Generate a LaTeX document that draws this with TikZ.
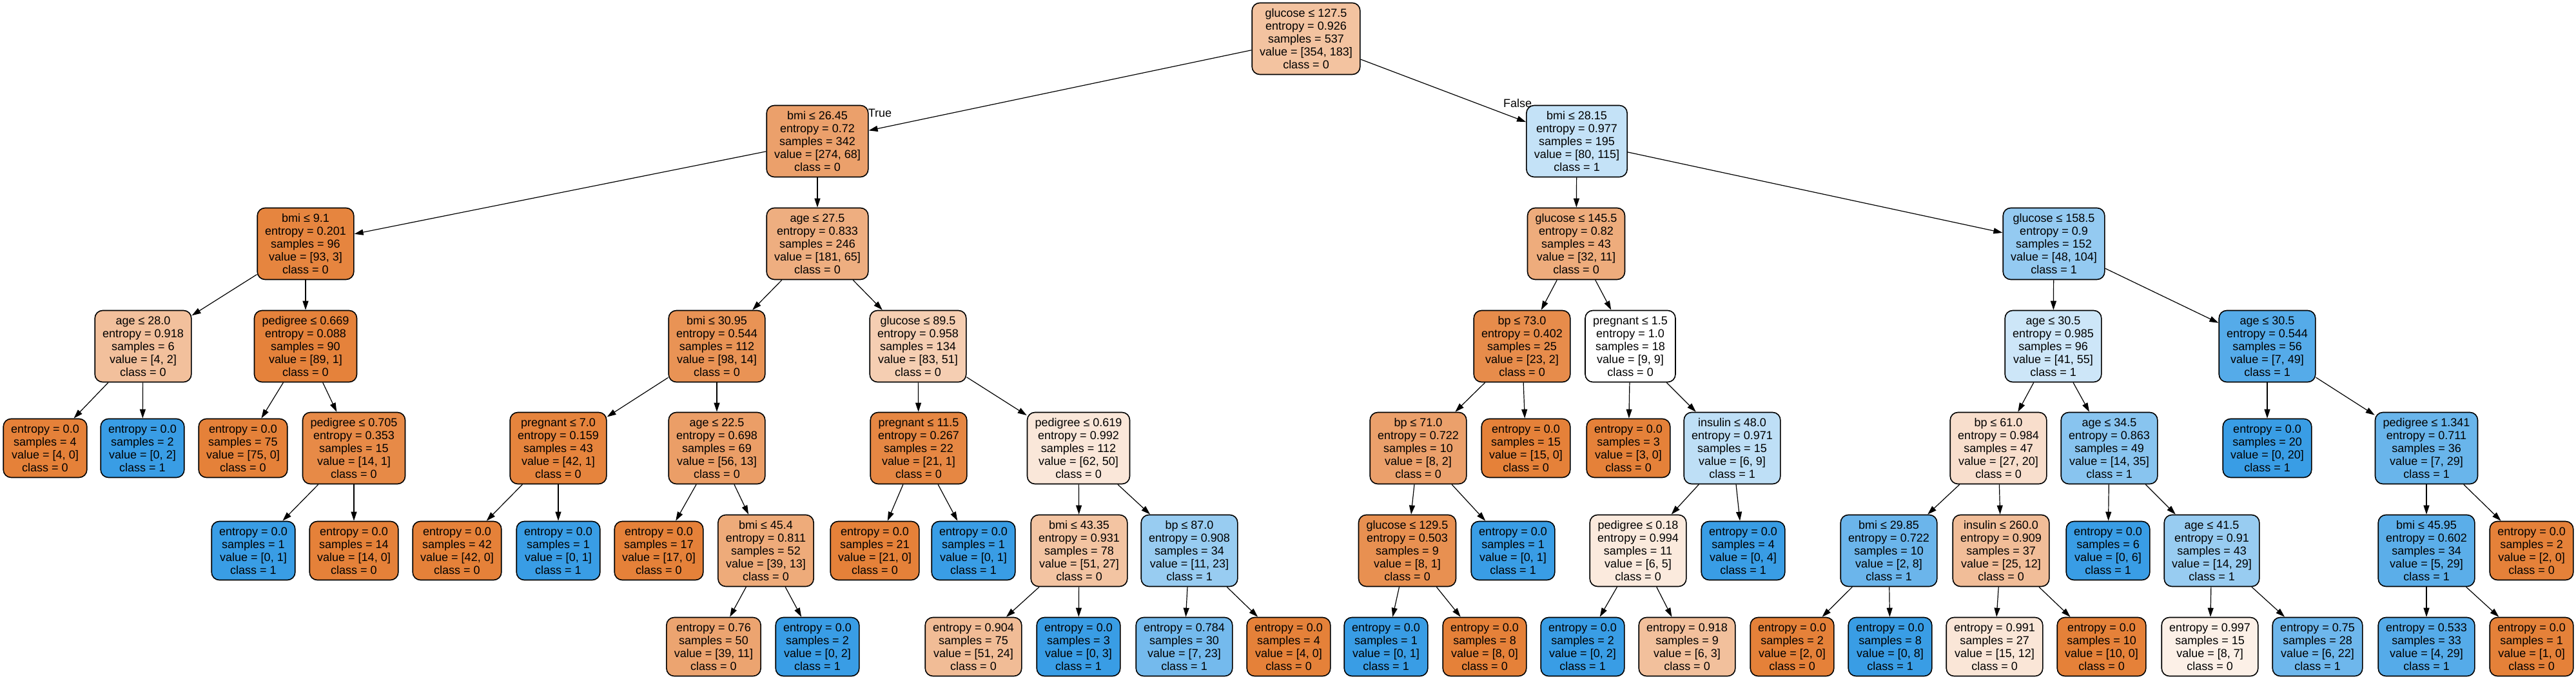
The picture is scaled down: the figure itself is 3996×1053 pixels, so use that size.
\documentclass[tikz,border=0pt]{standalone}
\usepackage{fontspec}
\setmainfont{Liberation Sans}
\usetikzlibrary{arrows.meta}
\definecolor{cz}{RGB}{229,129,57}
\definecolor{co}{RGB}{57,157,229}
\tikzset{
  tnode/.style={draw=black, line width=0.8pt, rounded corners=6pt, align=center,
    inner xsep=6pt, inner ysep=0pt, font=\fontsize{9pt}{10pt}\selectfont},
  inode/.style={tnode, minimum height=55.5pt},
  leaf/.style={tnode, minimum height=45.5pt},
  edge/.style={draw=black, line width=0.6pt, -{Triangle[length=7pt,width=4.5pt]}},
  elab/.style={font=\fontsize{9pt}{10pt}\selectfont, inner sep=0pt}
}
\begin{document}
\begin{tikzpicture}[x=0.5pt,y=-0.5pt]
\useasboundingbox (0,0) rectangle (3996,1053);
% rank 0
\node[inode, fill=cz!48] (n0) at (2026,60) {glucose ≤ 127.5\\entropy = 0.926\\samples = 537\\value = [354, 183]\\class = 0};
% rank 1
\node[inode, fill=cz!75] (n1) at (1268,219) {bmi ≤ 26.45\\entropy = 0.72\\samples = 342\\value = [274, 68]\\class = 0};
\node[inode, fill=co!30] (n2) at (2446,219) {bmi ≤ 28.15\\entropy = 0.977\\samples = 195\\value = [80, 115]\\class = 1};
% rank 2
\node[inode, fill=cz!97] (n3) at (474,378) {bmi ≤ 9.1\\entropy = 0.201\\samples = 96\\value = [93, 3]\\class = 0};
\node[inode, fill=cz!64] (n4) at (1268,378) {age ≤ 27.5\\entropy = 0.833\\samples = 246\\value = [181, 65]\\class = 0};
\node[inode, fill=cz!66] (n5) at (2445,378) {glucose ≤ 145.5\\entropy = 0.82\\samples = 43\\value = [32, 11]\\class = 0};
\node[inode, fill=co!54] (n6) at (3186,378) {glucose ≤ 158.5\\entropy = 0.9\\samples = 152\\value = [48, 104]\\class = 1};
% rank 3
\node[inode, fill=cz!50] (n7) at (222,537) {age ≤ 28.0\\entropy = 0.918\\samples = 6\\value = [4, 2]\\class = 0};
\node[inode, fill=cz!99] (n8) at (474,537) {pedigree ≤ 0.669\\entropy = 0.088\\samples = 90\\value = [89, 1]\\class = 0};
\node[inode, fill=cz!86] (n9) at (1112,537) {bmi ≤ 30.95\\entropy = 0.544\\samples = 112\\value = [98, 14]\\class = 0};
\node[inode, fill=cz!39] (n10) at (1424,537) {glucose ≤ 89.5\\entropy = 0.958\\samples = 134\\value = [83, 51]\\class = 0};
\node[inode, fill=cz!91] (n11) at (2361,537) {bp ≤ 73.0\\entropy = 0.402\\samples = 25\\value = [23, 2]\\class = 0};
\node[inode, fill=white] (n12) at (2529,537) {pregnant ≤ 1.5\\entropy = 1.0\\samples = 18\\value = [9, 9]\\class = 0};
\node[inode, fill=co!25] (n13) at (3185,537) {age ≤ 30.5\\entropy = 0.985\\samples = 96\\value = [41, 55]\\class = 1};
\node[inode, fill=co!86] (n14) at (3517,537) {age ≤ 30.5\\entropy = 0.544\\samples = 56\\value = [7, 49]\\class = 1};
% rank 4
\node[leaf, fill=cz] (l1) at (70,695) {entropy = 0.0\\samples = 4\\value = [4, 0]\\class = 0};
\node[leaf, fill=co] (l2) at (221,695) {entropy = 0.0\\samples = 2\\value = [0, 2]\\class = 1};
\node[leaf, fill=cz] (l3) at (377,695) {entropy = 0.0\\samples = 75\\value = [75, 0]\\class = 0};
\node[inode, fill=cz!93] (n15) at (549,695) {pedigree ≤ 0.705\\entropy = 0.353\\samples = 15\\value = [14, 1]\\class = 0};
\node[inode, fill=cz!98] (n16) at (866,695) {pregnant ≤ 7.0\\entropy = 0.159\\samples = 43\\value = [42, 1]\\class = 0};
\node[inode, fill=cz!77] (n17) at (1112,695) {age ≤ 22.5\\entropy = 0.698\\samples = 69\\value = [56, 13]\\class = 0};
\node[inode, fill=cz!95] (n18) at (1425,695) {pregnant ≤ 11.5\\entropy = 0.267\\samples = 22\\value = [21, 1]\\class = 0};
\node[inode, fill=cz!19] (n19) at (1673,695) {pedigree ≤ 0.619\\entropy = 0.992\\samples = 112\\value = [62, 50]\\class = 0};
\node[inode, fill=cz!75] (n20) at (2200,695) {bp ≤ 71.0\\entropy = 0.722\\samples = 10\\value = [8, 2]\\class = 0};
\node[leaf, fill=cz] (l4) at (2367,695) {entropy = 0.0\\samples = 15\\value = [15, 0]\\class = 0};
\node[leaf, fill=cz] (l5) at (2526,695) {entropy = 0.0\\samples = 3\\value = [3, 0]\\class = 0};
\node[inode, fill=co!33] (n21) at (2687,695) {insulin ≤ 48.0\\entropy = 0.971\\samples = 15\\value = [6, 9]\\class = 1};
\node[inode, fill=cz!26] (n22) at (3100,695) {bp ≤ 61.0\\entropy = 0.984\\samples = 47\\value = [27, 20]\\class = 0};
\node[inode, fill=co!60] (n23) at (3272,695) {age ≤ 34.5\\entropy = 0.863\\samples = 49\\value = [14, 35]\\class = 1};
\node[leaf, fill=co] (l6) at (3517,695) {entropy = 0.0\\samples = 20\\value = [0, 20]\\class = 1};
\node[inode, fill=co!76] (n24) at (3764,695) {pedigree ≤ 1.341\\entropy = 0.711\\samples = 36\\value = [7, 29]\\class = 1};
% rank 5
\node[leaf, fill=co] (l7) at (393,854) {entropy = 0.0\\samples = 1\\value = [0, 1]\\class = 1};
\node[leaf, fill=cz] (l8) at (549,854) {entropy = 0.0\\samples = 14\\value = [14, 0]\\class = 0};
\node[leaf, fill=cz] (l9) at (709,854) {entropy = 0.0\\samples = 42\\value = [42, 0]\\class = 0};
\node[leaf, fill=co] (l10) at (866,854) {entropy = 0.0\\samples = 1\\value = [0, 1]\\class = 1};
\node[leaf, fill=cz] (l11) at (1022,854) {entropy = 0.0\\samples = 17\\value = [17, 0]\\class = 0};
\node[inode, fill=cz!67] (n25) at (1188,854) {bmi ≤ 45.4\\entropy = 0.811\\samples = 52\\value = [39, 13]\\class = 0};
\node[leaf, fill=cz] (l12) at (1357,854) {entropy = 0.0\\samples = 21\\value = [21, 0]\\class = 0};
\node[leaf, fill=co] (l13) at (1510,854) {entropy = 0.0\\samples = 1\\value = [0, 1]\\class = 1};
\node[inode, fill=cz!47] (n26) at (1674,854) {bmi ≤ 43.35\\entropy = 0.931\\samples = 78\\value = [51, 27]\\class = 0};
\node[inode, fill=co!52] (n27) at (1845,854) {bp ≤ 87.0\\entropy = 0.908\\samples = 34\\value = [11, 23]\\class = 1};
\node[inode, fill=cz!88] (n28) at (2183,854) {glucose ≤ 129.5\\entropy = 0.503\\samples = 9\\value = [8, 1]\\class = 0};
\node[leaf, fill=co] (l14) at (2347,854) {entropy = 0.0\\samples = 1\\value = [0, 1]\\class = 1};
\node[inode, fill=cz!17] (n29) at (2541,854) {pedigree ≤ 0.18\\entropy = 0.994\\samples = 11\\value = [6, 5]\\class = 0};
\node[leaf, fill=co] (l15) at (2704,854) {entropy = 0.0\\samples = 4\\value = [0, 4]\\class = 1};
\node[inode, fill=co!75] (n30) at (2930,854) {bmi ≤ 29.85\\entropy = 0.722\\samples = 10\\value = [2, 8]\\class = 1};
\node[inode, fill=cz!52] (n31) at (3104,854) {insulin ≤ 260.0\\entropy = 0.909\\samples = 37\\value = [25, 12]\\class = 0};
\node[leaf, fill=co] (l16) at (3270,854) {entropy = 0.0\\samples = 6\\value = [0, 6]\\class = 1};
\node[inode, fill=co!52] (n32) at (3431,854) {age ≤ 41.5\\entropy = 0.91\\samples = 43\\value = [14, 29]\\class = 1};
\node[inode, fill=co!83] (n33) at (3764,854) {bmi ≤ 45.95\\entropy = 0.602\\samples = 34\\value = [5, 29]\\class = 1};
\node[leaf, fill=cz] (l17) at (3927,854) {entropy = 0.0\\samples = 2\\value = [2, 0]\\class = 0};
% rank 6
\node[leaf, fill=cz!72] (l18) at (1107,1003) {entropy = 0.76\\samples = 50\\value = [39, 11]\\class = 0};
\node[leaf, fill=co] (l19) at (1268,1003) {entropy = 0.0\\samples = 2\\value = [0, 2]\\class = 1};
\node[leaf, fill=cz!53] (l20) at (1510,1003) {entropy = 0.904\\samples = 75\\value = [51, 24]\\class = 0};
\node[leaf, fill=co] (l21) at (1673,1003) {entropy = 0.0\\samples = 3\\value = [0, 3]\\class = 1};
\node[leaf, fill=co!70] (l22) at (1837,1003) {entropy = 0.784\\samples = 30\\value = [7, 23]\\class = 1};
\node[leaf, fill=cz] (l23) at (1999,1003) {entropy = 0.0\\samples = 4\\value = [4, 0]\\class = 0};
\node[leaf, fill=co] (l24) at (2150,1003) {entropy = 0.0\\samples = 1\\value = [0, 1]\\class = 1};
\node[leaf, fill=cz] (l25) at (2303,1003) {entropy = 0.0\\samples = 8\\value = [8, 0]\\class = 0};
\node[leaf, fill=co] (l26) at (2455,1003) {entropy = 0.0\\samples = 2\\value = [0, 2]\\class = 1};
\node[leaf, fill=cz!50] (l27) at (2617,1003) {entropy = 0.918\\samples = 9\\value = [6, 3]\\class = 0};
\node[leaf, fill=cz] (l28) at (2780,1003) {entropy = 0.0\\samples = 2\\value = [2, 0]\\class = 0};
\node[leaf, fill=co] (l29) at (2932,1003) {entropy = 0.0\\samples = 8\\value = [0, 8]\\class = 1};
\node[leaf, fill=cz!20] (l30) at (3094,1003) {entropy = 0.991\\samples = 27\\value = [15, 12]\\class = 0};
\node[leaf, fill=cz] (l31) at (3260,1003) {entropy = 0.0\\samples = 10\\value = [10, 0]\\class = 0};
\node[leaf, fill=cz!12] (l32) at (3428,1003) {entropy = 0.997\\samples = 15\\value = [8, 7]\\class = 0};
\node[leaf, fill=co!73] (l33) at (3595,1003) {entropy = 0.75\\samples = 28\\value = [6, 22]\\class = 1};
\node[leaf, fill=co!86] (l34) at (3764,1003) {entropy = 0.533\\samples = 33\\value = [4, 29]\\class = 1};
\node[leaf, fill=cz] (l35) at (3927,1003) {entropy = 0.0\\samples = 1\\value = [1, 0]\\class = 0};
% edge labels
\node[elab] (tl) at (1365,175) {True};
\node[elab] (fl) at (2354,160) {False};
% edges
\draw[edge] (n0) -- (n1);
\draw[edge] (n0) -- (n2);
\draw[edge] (n1) -- (n3);
\draw[edge] (n1) -- (n4);
\draw[edge] (n3) -- (n7);
\draw[edge] (n3) -- (n8);
\draw[edge] (n7) -- (l1);
\draw[edge] (n7) -- (l2);
\draw[edge] (n8) -- (l3);
\draw[edge] (n8) -- (n15);
\draw[edge] (n15) -- (l7);
\draw[edge] (n15) -- (l8);
\draw[edge] (n4) -- (n9);
\draw[edge] (n4) -- (n10);
\draw[edge] (n9) -- (n16);
\draw[edge] (n9) -- (n17);
\draw[edge] (n16) -- (l9);
\draw[edge] (n16) -- (l10);
\draw[edge] (n17) -- (l11);
\draw[edge] (n17) -- (n25);
\draw[edge] (n25) -- (l18);
\draw[edge] (n25) -- (l19);
\draw[edge] (n10) -- (n18);
\draw[edge] (n10) -- (n19);
\draw[edge] (n18) -- (l12);
\draw[edge] (n18) -- (l13);
\draw[edge] (n19) -- (n26);
\draw[edge] (n19) -- (n27);
\draw[edge] (n26) -- (l20);
\draw[edge] (n26) -- (l21);
\draw[edge] (n27) -- (l22);
\draw[edge] (n27) -- (l23);
\draw[edge] (n2) -- (n5);
\draw[edge] (n2) -- (n6);
\draw[edge] (n5) -- (n11);
\draw[edge] (n5) -- (n12);
\draw[edge] (n11) -- (n20);
\draw[edge] (n11) -- (l4);
\draw[edge] (n20) -- (n28);
\draw[edge] (n20) -- (l14);
\draw[edge] (n28) -- (l24);
\draw[edge] (n28) -- (l25);
\draw[edge] (n12) -- (l5);
\draw[edge] (n12) -- (n21);
\draw[edge] (n21) -- (n29);
\draw[edge] (n21) -- (l15);
\draw[edge] (n29) -- (l26);
\draw[edge] (n29) -- (l27);
\draw[edge] (n6) -- (n13);
\draw[edge] (n6) -- (n14);
\draw[edge] (n13) -- (n22);
\draw[edge] (n13) -- (n23);
\draw[edge] (n22) -- (n30);
\draw[edge] (n22) -- (n31);
\draw[edge] (n30) -- (l28);
\draw[edge] (n30) -- (l29);
\draw[edge] (n31) -- (l30);
\draw[edge] (n31) -- (l31);
\draw[edge] (n23) -- (l16);
\draw[edge] (n23) -- (n32);
\draw[edge] (n32) -- (l32);
\draw[edge] (n32) -- (l33);
\draw[edge] (n14) -- (l6);
\draw[edge] (n14) -- (n24);
\draw[edge] (n24) -- (n33);
\draw[edge] (n24) -- (l17);
\draw[edge] (n33) -- (l34);
\draw[edge] (n33) -- (l35);
\end{tikzpicture}
\end{document}
